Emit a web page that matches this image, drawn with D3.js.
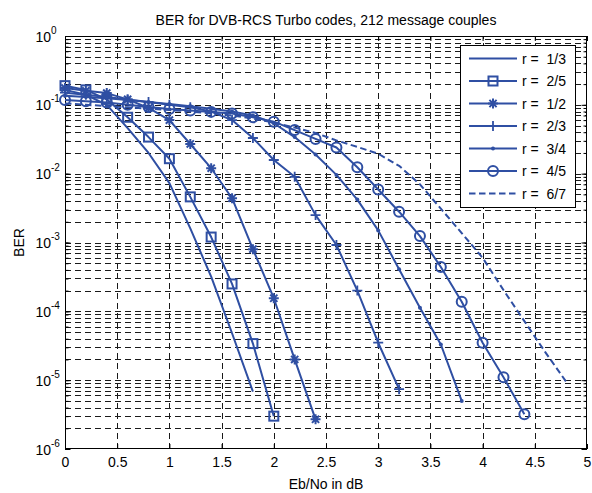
<!DOCTYPE html>
<html>
<head>
<meta charset="utf-8">
<script src="https://cdn.jsdelivr.net/npm/d3@7"></script>
<style>
  html, body { margin: 0; padding: 0; background: #fff; }
  svg { display: block; font-family: "Liberation Sans", Arial, Helvetica, sans-serif; }
  text { white-space: pre; }
</style>
</head>
<body>
<svg id="chart" width="592" height="493"></svg>
<script>
// ---------------- data ----------------
const ebno = [0, 0.2, 0.4, 0.6, 0.8, 1.0, 1.2, 1.4, 1.6, 1.8, 2.0, 2.2, 2.4, 2.6, 2.8, 3.0, 3.2, 3.4, 3.6, 3.8, 4.0, 4.2, 4.4, 4.6, 4.8];
const seriesNames = ["r =  1/3", "r =  2/5", "r =  1/2", "r =  2/3", "r =  3/4", "r =  4/5", "r =  6/7"];
const ber_1_3 = [0.165, 0.14, 0.1, 0.046, 0.02, 0.0073, 1.6e-3, 3.2e-4, 4.8e-5, 6.8e-6];
const ber_2_5 = [0.19, 0.165, 0.12, 0.066, 0.034, 0.0165, 0.0046, 0.0012, 2.5e-4, 3.4e-5, 3.0e-6];
const ber_1_2 = [0.175, 0.16, 0.148, 0.12, 0.09, 0.06, 0.027, 0.012, 0.0044, 8.0e-4, 1.55e-4, 2.0e-5, 2.7e-6];
const ber_2_3 = [0.15, 0.14, 0.13, 0.12, 0.11, 0.1, 0.092, 0.08, 0.06, 0.033, 0.0158, 0.009, 0.0025, 9.2e-4, 2.0e-4, 3.5e-5, 7.4e-6];
const ber_3_4 = [0.135, 0.13, 0.125, 0.118, 0.11, 0.103, 0.095, 0.088, 0.08, 0.07, 0.054, 0.034, 0.019, 0.0096, 0.0042, 0.0015, 4.1e-4, 1.13e-4, 3.3e-5, 5.0e-6];
const ber_4_5 = [0.118, 0.113, 0.108, 0.1, 0.093, 0.087, 0.083, 0.079, 0.075, 0.066, 0.057, 0.043, 0.032, 0.024, 0.0124, 0.0059, 0.0028, 0.00124, 4.4e-4, 1.38e-4, 3.5e-5, 1.1e-5, 3.2e-6];
const ber_6_7 = [0.105, 0.1, 0.096, 0.092, 0.088, 0.084, 0.08, 0.075, 0.07, 0.063, 0.0554, 0.0468, 0.039, 0.0304, 0.0245, 0.0195, 0.013, 0.0070, 0.0031, 0.00137, 6.0e-4, 2.04e-4, 7.2e-5, 2.56e-5, 9.5e-6];
const markers = ["none", "square", "star", "plus", "point", "circle", "none"];
const dashed = [false, false, false, false, false, false, true];
const xTicks = [0, 0.5, 1, 1.5, 2, 2.5, 3, 3.5, 4, 4.5, 5];
const xTickLabels = ["0", "0.5", "1", "1.5", "2", "2.5", "3", "3.5", "4", "4.5", "5"];
const yTickExps = [0, -1, -2, -3, -4, -5, -6];
const titleText = "BER for DVB-RCS Turbo codes, 212 message couples";
const xLabel = "Eb/No in dB";
const yLabel = "BER";

const allSeries = [ber_1_3, ber_2_5, ber_1_2, ber_2_3, ber_3_4, ber_4_5, ber_6_7];

// ---------------- layout ----------------
const L = 65, R = 587, T = 36, B = 449;
const blue = "#2f4fa3";
const svg = d3.select("#chart");
svg.append("rect").attr("width", 592).attr("height", 493).attr("fill", "#fff");

const x = d3.scaleLinear().domain([0, 5]).range([L, R]);
const y = d3.scaleLog().domain([1e-6, 1]).range([B, T]);

// grid
const gridColor = "#1a1a1a";
const gGrid = svg.append("g").attr("stroke", gridColor).attr("stroke-width", 1).attr("stroke-dasharray", "6,4").attr("fill", "none");
const yGridVals = [];
yTickExps.forEach(e => { if (e > -6) { for (let m = 1; m <= 9; m++) { const v = m * Math.pow(10, e - 1); if (v > 1e-6 && v < 1) yGridVals.push(v); } } });
yGridVals.forEach(v => {
  gGrid.append("line").attr("x1", L).attr("x2", R).attr("y1", Math.round(y(v)) + 0.5).attr("y2", Math.round(y(v)) + 0.5);
});
xTicks.forEach(t => {
  if (t > 0 && t < 5) gGrid.append("line").attr("y1", B).attr("y2", T).attr("x1", Math.round(x(t)) + 0.5).attr("x2", Math.round(x(t)) + 0.5);
});

// axes
const fontSize = 14;
const axB = svg.append("g").attr("transform", `translate(0,${B})`)
  .call(d3.axisBottom(x).tickValues(xTicks).tickSizeInner(-5).tickSizeOuter(0).tickPadding(8).tickFormat((d, i) => xTickLabels[i]));
const axT = svg.append("g").attr("transform", `translate(0,${T})`)
  .call(d3.axisTop(x).tickValues(xTicks).tickSizeInner(-5).tickSizeOuter(0).tickFormat(""));
const majorY = yTickExps.map(e => Math.pow(10, e));
const axL = svg.append("g").attr("transform", `translate(${L},0)`)
  .call(d3.axisLeft(y).tickValues(majorY).tickSizeInner(-5.5).tickSizeOuter(0).tickFormat(""));
const axR = svg.append("g").attr("transform", `translate(${R},0)`)
  .call(d3.axisRight(y).tickValues(majorY).tickSizeInner(-5.5).tickSizeOuter(0).tickFormat(""));
const axLm = svg.append("g").attr("transform", `translate(${L},0)`)
  .call(d3.axisLeft(y).tickValues(yGridVals).tickSizeInner(-3.5).tickSizeOuter(0).tickFormat(""));
const axRm = svg.append("g").attr("transform", `translate(${R},0)`)
  .call(d3.axisRight(y).tickValues(yGridVals).tickSizeInner(-3.5).tickSizeOuter(0).tickFormat(""));
[axB, axT, axL, axR, axLm, axRm].forEach(g => {
  g.select(".domain").remove();
  g.selectAll(".tick line").attr("stroke", "#000");
  g.selectAll("text").attr("font-size", fontSize).attr("font-family", "inherit").attr("fill", "#000");
});

// y tick labels 10^e
majorY.forEach((v, i) => {
  const yy = y(v);
  svg.append("text").attr("x", 51).attr("y", yy + 5.5).attr("text-anchor", "end").attr("font-size", fontSize).attr("fill", "#000").text("10");
  svg.append("text").attr("x", 51).attr("y", yy - 2.5).attr("font-size", 10).attr("fill", "#000").text(String(yTickExps[i]));
});

// box
svg.append("rect").attr("x", L + 0.5).attr("y", T + 0.5).attr("width", R - L - 1).attr("height", B - T - 1)
  .attr("fill", "none").attr("stroke", "#000").attr("stroke-width", 1);

// marker drawing
function drawMarker(g, type, cx, cy) {
  const s = g.append("g").attr("transform", `translate(${cx},${cy})`).attr("stroke", blue).attr("fill", "none");
  if (type === "square") {
    s.append("rect").attr("x", -4.5).attr("y", -4.5).attr("width", 9).attr("height", 9).attr("stroke-width", 2);
  } else if (type === "circle") {
    s.append("circle").attr("r", 5).attr("stroke-width", 2);
  } else if (type === "plus") {
    s.append("path").attr("d", "M-5,0H5M0,-5V5").attr("stroke-width", 1.8);
  } else if (type === "star") {
    s.append("path").attr("d", "M-5,0H5M0,-5V5M-3.6,-3.6L3.6,3.6M-3.6,3.6L3.6,-3.6").attr("stroke-width", 2);
  } else if (type === "point") {
    s.append("circle").attr("r", 2).attr("fill", blue).attr("stroke", "none");
  }
}

// lines
const line = d3.line().x(d => x(d[0])).y(d => y(d[1]));
const gLines = svg.append("g");
allSeries.forEach((vals, si) => {
  const pts = vals.map((v, i) => [ebno[i], v]);
  gLines.append("path").datum(pts).attr("d", line).attr("fill", "none").attr("stroke", blue)
    .attr("stroke-width", 2).attr("stroke-linejoin", "round")
    .attr("stroke-dasharray", dashed[si] ? "6.5,3.5" : null);
  if (markers[si] !== "none") pts.forEach(p => drawMarker(gLines, markers[si], x(p[0]), y(p[1])));
});

// legend
const lgX = 460, lgY = 45, lgW = 115, lgH = 162;
svg.append("rect").attr("x", lgX + 0.5).attr("y", lgY + 0.5).attr("width", lgW).attr("height", lgH)
  .attr("fill", "#fff").attr("stroke", "#000").attr("stroke-width", 1);
seriesNames.forEach((name, i) => {
  const ry = 58.5 + 22.5 * i;
  svg.append("line").attr("x1", 469).attr("x2", 517).attr("y1", ry).attr("y2", ry)
    .attr("stroke", blue).attr("stroke-width", 2).attr("stroke-dasharray", dashed[i] ? "6.5,3.5" : null);
  if (markers[i] !== "none") drawMarker(svg, markers[i], 493, ry);
  svg.append("text").attr("x", 522).attr("y", ry + 5).attr("font-size", fontSize).attr("fill", "#000").text(name);
});

// titles
svg.append("text").attr("x", (L + R) / 2).attr("y", 25).attr("text-anchor", "middle").attr("font-size", 14).attr("fill", "#000").text(titleText);
svg.append("text").attr("x", (L + R) / 2).attr("y", 489).attr("text-anchor", "middle").attr("font-size", fontSize).attr("fill", "#000").text(xLabel);
svg.append("text").attr("transform", `translate(24,${(T + B) / 2}) rotate(-90)`).attr("text-anchor", "middle").attr("font-size", fontSize).attr("fill", "#000").text(yLabel);
</script>
</body>
</html>
